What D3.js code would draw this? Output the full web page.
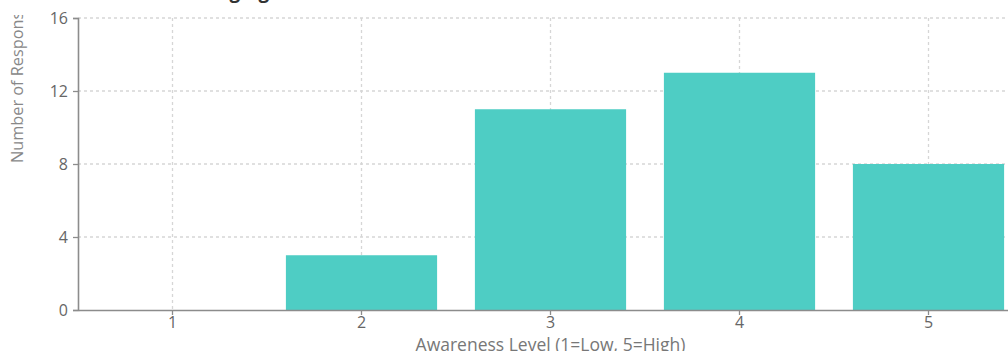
<!DOCTYPE html>
<html>
<head>
<meta charset="utf-8">
<script src="https://cdn.jsdelivr.net/npm/d3@7"></script>
<style>
  html, body { margin: 0; padding: 0; background: #fff; overflow: hidden; }
  svg { display: block; font-family: "Open Sans", "Noto Sans", sans-serif; }
</style>
</head>
<body>
<svg id="chart" width="1008" height="351"></svg>
<script>
// Survey responses per awareness level
const levels = ["1", "2", "3", "4", "5"];
const responses = [0, 3, 11, 13, 8];
const yTicks = [0, 4, 8, 12, 16];
const chartTitle = "Awareness of Emerging Tech";
const xTitle = "Awareness Level (1=Low, 5=High)";
const yTitle = "Number of Responses";

const svg = d3.select("#chart");
const margin = { left: 78, top: 18, bottom: 41 };
const plotRight = 1023;
const plotBottom = 351 - margin.bottom;

const x = d3.scaleBand()
  .domain(levels)
  .range([margin.left, plotRight])
  .paddingInner(0.2)
  .paddingOuter(0.1);

const y = d3.scaleLinear()
  .domain([0, 16])
  .range([plotBottom, margin.top]);

const data = levels.map((l, i) => ({ level: l, value: responses[i] }));

// Dashed grid
const grid = svg.append("g").attr("stroke", "#d6d6d6").attr("stroke-dasharray", "3,3").attr("stroke-width", 1.3);
grid.selectAll("line.h").data(yTicks.filter(t => t > 0)).join("line")
  .attr("x1", margin.left).attr("x2", plotRight)
  .attr("y1", d => y(d)).attr("y2", d => y(d));
grid.selectAll("line.v").data(levels).join("line")
  .attr("x1", d => x(d) + x.bandwidth() / 2).attr("x2", d => x(d) + x.bandwidth() / 2)
  .attr("y1", margin.top).attr("y2", plotBottom);

// Bars
svg.append("g").selectAll("rect").data(data).join("rect")
  .attr("x", d => x(d.level))
  .attr("width", x.bandwidth())
  .attr("y", d => y(d.value))
  .attr("height", d => y(0) - y(d.value))
  .attr("fill", "#4ecdc4");

// Axes
const yAxis = svg.append("g")
  .attr("transform", `translate(${margin.left},0)`)
  .call(d3.axisLeft(y).tickValues(yTicks).tickSize(5).tickPadding(5));
const xAxis = svg.append("g")
  .attr("transform", `translate(0,${plotBottom})`)
  .call(d3.axisBottom(x).tickSize(5).tickPadding(2).tickSizeOuter(0));

[yAxis, xAxis].forEach(a => {
  a.select(".domain").attr("stroke", "#8c8c8c").attr("stroke-width", 1.6);
  a.selectAll(".tick line").attr("stroke", "#8c8c8c").attr("stroke-width", 1.3);
  a.selectAll(".tick text").attr("fill", "#666")
    .attr("font-size", 16)
    .attr("font-family", "'Open Sans', 'Noto Sans', sans-serif");
});

// Axis titles
svg.append("text")
  .attr("x", x("3") + x.bandwidth() / 2)
  .attr("y", 351)
  .attr("text-anchor", "middle")
  .attr("fill", "#777")
  .attr("font-size", 17.5)
  .text(xTitle);

svg.append("clipPath").attr("id", "ylab-clip")
  .append("rect").attr("x", 0).attr("y", 15).attr("width", 40).attr("height", 330);
svg.append("g")
  .attr("clip-path", "url(#ylab-clip)")
  .append("text")
  .attr("transform", "translate(23,163) rotate(-90)")
  .attr("text-anchor", "start")
  .attr("fill", "#888")
  .attr("font-size", 16.3)
  .text(yTitle);

// Chart title
svg.append("text")
  .attr("x", 48)
  .attr("y", -2)
  .attr("fill", "#333")
  .attr("font-size", 19)
  .attr("font-weight", "bold")
  .text(chartTitle);
</script>
</body>
</html>
